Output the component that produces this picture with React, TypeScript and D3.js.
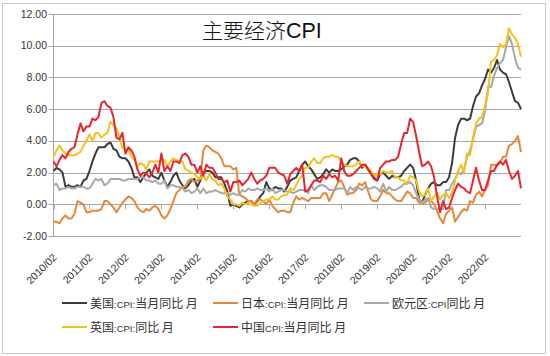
import React from "react";
import * as d3 from "d3";

const tickLabels = ["2010/02","2011/02","2012/02","2013/02","2014/02","2015/02","2016/02","2017/02","2018/02","2019/02","2020/02","2021/02","2022/02"];
const yTicks = [-2, 0, 2, 4, 6, 8, 10, 12];

// Monthly values, 2010/02 .. 2023/02
const us = [
  2.1, 2.3, 2.2, 2.0, 1.1, 1.2, 1.1, 1.1, 1.2, 1.1, 1.5,
  1.6, 2.1, 2.7, 3.2, 3.6, 3.6, 3.6, 3.8, 3.9, 3.5, 3.4, 3.0,
  2.9, 2.9, 2.7, 2.3, 1.7, 1.7, 1.4, 1.7, 2.0, 2.2, 1.8, 1.7,
  1.6, 2.0, 1.5, 1.1, 1.4, 1.8, 2.0, 1.5, 1.2, 1.0, 1.2, 1.5,
  1.6, 1.1, 1.5, 2.0, 2.1, 2.1, 2.0, 1.7, 1.7, 1.7, 1.3, 0.8,
  -0.1, 0.0, -0.1, -0.2, 0.0, 0.1, 0.2, 0.2, 0.0, 0.2, 0.5, 0.7,
  1.4, 1.0, 0.9, 1.1, 1.0, 1.0, 0.8, 1.1, 1.5, 1.6, 1.7, 2.1,
  2.5, 2.7, 2.4, 2.2, 1.9, 1.6, 1.7, 1.9, 2.2, 2.0, 2.2, 2.1,
  2.1, 2.2, 2.4, 2.5, 2.8, 2.9, 2.9, 2.7, 2.3, 2.5, 2.2, 1.9,
  1.6, 1.5, 1.9, 2.0, 1.8, 1.6, 1.8, 1.7, 1.7, 1.8, 2.1, 2.3,
  2.5, 2.3, 1.5, 0.3, 0.1, 0.6, 1.0, 1.3, 1.4, 1.2, 1.2, 1.4,
  1.4, 1.7, 2.6, 4.2, 5.0, 5.4, 5.4, 5.3, 5.4, 6.2, 6.8, 7.0,
  7.5, 7.9, 8.5, 8.3, 8.6, 9.1, 8.5, 8.3, 8.2, 7.7, 7.1, 6.5,
  6.4, 6.0,
];
const japan = [
  -1.1, -1.1, -1.2, -0.9, -0.7, -0.9, -0.9, -0.6, 0.2, 0.1, 0.0,
  -0.5, -0.5, -0.4, -0.4, -0.4, -0.3, 0.2, 0.2, 0.0, -0.2, -0.5, -0.2,
  0.1, 0.3, 0.5, 0.4, 0.2, -0.2, -0.4, -0.5, -0.3, -0.4, -0.2, -0.1,
  -0.3, -0.7, -0.9, -0.7, -0.3, 0.2, 0.7, 0.9, 1.1, 1.1, 1.5, 1.6,
  1.4, 1.5, 1.6, 3.4, 3.7, 3.6, 3.4, 3.3, 3.2, 2.9, 2.4, 2.4,
  2.4, 2.2, 2.3, 0.6, 0.5, 0.4, 0.2, 0.2, 0.0, 0.3, 0.3, 0.2,
  0.0, 0.3, -0.1, -0.3, -0.5, -0.4, -0.4, -0.5, -0.5, 0.1, 0.5, 0.3,
  0.4, 0.3, 0.2, 0.4, 0.4, 0.4, 0.4, 0.7, 0.7, 0.2, 0.6, 1.0,
  1.4, 1.5, 1.1, 0.6, 0.7, 0.7, 0.9, 1.3, 1.2, 1.4, 0.8, 0.3,
  0.2, 0.2, 0.5, 0.9, 0.7, 0.7, 0.5, 0.3, 0.2, 0.2, 0.5, 0.8,
  0.7, 0.4, 0.4, 0.1, 0.1, 0.1, 0.3, 0.2, 0.0, -0.4, -0.9, -1.2,
  -0.6, -0.4, -0.2, -1.1, -0.8, -0.5, -0.3, -0.4, 0.2, 0.1, 0.6, 0.8,
  0.5, 0.9, 1.2, 2.5, 2.5, 2.4, 2.6, 3.0, 3.0, 3.7, 3.8, 4.0,
  4.3, 3.3,
];
const euro = [
  1.2, 1.3, 0.9, 1.0, 1.0, 1.1, 1.0, 1.0, 1.1, 1.1, 1.1,
  1.0, 1.0, 1.3, 1.6, 1.5, 1.6, 1.2, 1.3, 1.6, 1.6, 1.6, 1.6,
  1.5, 1.5, 1.6, 1.6, 1.6, 1.6, 1.7, 1.7, 1.5, 1.5, 1.4, 1.5,
  1.3, 1.3, 1.5, 1.0, 1.2, 1.2, 1.1, 1.1, 1.0, 0.8, 0.9, 0.7,
  0.8, 1.0, 0.7, 1.0, 0.7, 0.8, 0.8, 0.9, 0.8, 0.7, 0.7, 0.7,
  0.6, 0.7, 0.6, 0.6, 0.9, 0.8, 1.0, 0.9, 0.9, 1.0, 0.9, 0.9,
  1.0, 0.8, 1.0, 0.7, 0.8, 0.9, 0.9, 0.8, 0.8, 0.7, 0.8, 0.9,
  0.9, 0.9, 0.7, 1.2, 0.9, 1.1, 1.2, 1.2, 1.1, 0.9, 0.9, 0.9,
  1.0, 1.0, 1.0, 0.7, 1.1, 0.9, 1.1, 1.0, 0.9, 1.1, 1.0, 1.0,
  1.1, 1.0, 0.8, 1.3, 0.8, 1.1, 0.9, 0.9, 1.0, 1.1, 1.3, 1.3,
  1.4, 1.2, 0.7, 0.3, 0.1, 0.3, 0.4, -0.2, -0.3, -0.3, -0.3, -0.3,
  0.9, 0.9, 1.3, 1.6, 2.0, 1.9, 2.2, 3.0, 3.4, 4.1, 4.9, 5.0,
  5.1, 5.9, 7.4, 7.4, 8.1, 8.6, 8.9, 9.1, 9.9, 10.6, 10.1, 9.2,
  8.6, 8.5,
];
const uk = [
  3.0, 3.4, 3.7, 3.4, 3.2, 3.1, 3.1, 3.1, 3.2, 3.3, 3.7,
  4.0, 4.4, 4.0, 4.5, 4.5, 4.2, 4.4, 4.5, 5.2, 5.0, 4.8, 4.2,
  3.6, 3.4, 3.5, 3.0, 2.8, 2.4, 2.6, 2.5, 2.2, 2.7, 2.7, 2.7,
  2.7, 2.8, 2.8, 2.4, 2.7, 2.9, 2.8, 2.7, 2.7, 2.2, 2.1, 2.0,
  1.9, 1.7, 1.6, 1.8, 1.5, 1.9, 1.6, 1.5, 1.2, 1.3, 1.0, 0.5,
  0.3, 0.0, 0.0, -0.1, 0.1, 0.0, 0.1, 0.0, -0.1, -0.1, 0.1, 0.2,
  0.3, 0.3, 0.5, 0.3, 0.3, 0.5, 0.6, 0.6, 1.0, 0.9, 1.2, 1.6,
  1.8, 2.3, 2.3, 2.7, 2.9, 2.6, 2.6, 2.9, 3.0, 3.0, 3.1, 3.0,
  3.0, 2.7, 2.5, 2.4, 2.4, 2.4, 2.5, 2.7, 2.4, 2.4, 2.3, 2.1,
  1.8, 1.9, 1.9, 2.1, 2.0, 2.0, 2.1, 1.7, 1.7, 1.5, 1.5, 1.3,
  1.8, 1.7, 1.5, 0.8, 0.5, 0.6, 1.0, 0.2, 0.5, 0.7, 0.3, 0.6,
  0.7, 0.4, 0.7, 1.5, 2.1, 2.5, 2.0, 3.2, 3.1, 4.2, 5.1, 5.4,
  5.5, 6.2, 7.0, 9.0, 9.1, 9.4, 10.1, 9.9, 10.1, 11.1, 10.7, 10.5,
  10.1, 9.3,
];
const china = [
  2.7, 2.4, 2.8, 3.1, 2.9, 3.3, 3.5, 3.6, 4.4, 5.1, 4.6,
  4.9, 4.9, 5.4, 5.3, 5.5, 6.4, 6.5, 6.2, 6.1, 5.5, 4.2, 4.1,
  4.5, 3.2, 3.6, 3.4, 3.0, 2.2, 1.8, 2.0, 1.9, 1.7, 2.0, 2.5,
  2.0, 3.2, 2.1, 2.4, 2.1, 2.7, 2.7, 2.6, 3.1, 3.2, 3.0, 2.5,
  2.5, 2.0, 2.4, 1.8, 2.5, 2.3, 2.3, 2.0, 1.6, 1.6, 1.4, 1.5,
  0.8, 1.4, 1.4, 1.5, 1.2, 1.4, 1.6, 2.0, 1.6, 1.3, 1.5, 1.6,
  1.8, 2.3, 2.3, 2.3, 2.0, 1.9, 1.8, 1.3, 1.9, 2.1, 2.3, 2.1,
  2.5, 0.8, 0.9, 1.2, 1.5, 1.5, 1.4, 1.8, 1.6, 1.9, 1.7, 1.8,
  1.5, 2.9, 2.1, 1.8, 1.8, 1.9, 2.1, 2.3, 2.5, 2.5, 2.2, 1.9,
  1.7, 1.5, 2.3, 2.5, 2.7, 2.7, 2.8, 2.8, 3.0, 3.8, 4.5, 4.5,
  5.4, 5.2, 4.3, 3.3, 2.4, 2.5, 2.7, 2.4, 1.7, 0.5, -0.5, 0.2,
  -0.3, -0.2, 0.4, 0.9, 1.3, 1.1, 1.0, 0.8, 0.7, 1.5, 2.3, 1.5,
  0.9, 0.9, 1.5, 2.1, 2.1, 2.5, 2.7, 2.5, 2.8, 2.1, 1.6, 1.8,
  2.1, 1.0,
];

const seriesNames = ["美国:CPI:当月同比 月", "日本:CPI:当月同比 月", "欧元区:CPI同比 月", "英国:CPI:同比 月", "中国CPI:当月同比 月"];
const seriesData = [us, japan, euro, uk, china];
const colors = ["#3c3c3c", "#E8873A", "#A8A8A8", "#F5C11C", "#E8252C"];

const W = 550, H = 356;
const left = 53.5, right = 521, top = 14, bottom = 236;

const font = "'Liberation Sans', Arial, sans-serif";
const cjk = "'Noto Sans CJK SC', 'Liberation Sans', sans-serif";

function LegendText({ text }: { text: string }) {
  const parts = text.split(/([A-Za-z:]+)/).filter((p) => p.length > 0);
  return (
    <>
      {parts.map((p, i) =>
        /^[A-Za-z:]+$/.test(p) ? (
          <tspan key={i} fontFamily="'Liberation Sans Narrow', 'Liberation Sans', sans-serif" fontSize={9.5}>{p}</tspan>
        ) : (
          <tspan key={i} fontFamily={cjk} fontSize={12}>{p}</tspan>
        )
      )}
    </>
  );
}

export default function App() {
  const n = us.length;
  const x = d3.scaleLinear().domain([0, n - 1]).range([left, right]);
  const y = d3.scaleLinear().domain([-2, 12]).range([bottom, top]);
  const line = d3.line<number>().x((_, i) => x(i)).y((d) => y(d));

  const legendPos = [
    { lx: 62, ly: 303 }, { lx: 213, ly: 303 }, { lx: 364, ly: 303 },
    { lx: 62, ly: 327 }, { lx: 213, ly: 327 },
  ];

  return (
    <svg width={W} height={H} style={{ position: "absolute", left: 0, top: 0, background: "#fff" }}>
      <rect x={2.5} y={3.5} width={543} height={350} fill="#fff" stroke="#c9c9c9" />
      {yTicks.map((t) => (
        <g key={t}>
          <line x1={left - 5} x2={right} y1={Math.round(y(t)) + 0.5} y2={Math.round(y(t)) + 0.5} stroke="#a6a6a6" strokeWidth={1} />
          <text x={47} y={y(t) + 3.5} textAnchor="end" fontFamily={font} fontSize={10.5} fill="#333">{t.toFixed(2)}</text>
        </g>
      ))}
      <line x1={left} x2={left} y1={top} y2={bottom} stroke="#a6a6a6" />
      {tickLabels.map((lab, k) => {
        const tx = x(k * 12);
        return (
          <g key={lab}>
            <line x1={Math.round(tx) + 0.5} x2={Math.round(tx) + 0.5} y1={y(0)} y2={y(0) + 5} stroke="#a6a6a6" />
            <text transform={`translate(${tx + 4},${258}) rotate(-45)`} textAnchor="end" fontFamily={font} fontSize={10.5} fill="#333">{lab}</text>
          </g>
        );
      })}
      {seriesData.map((s, i) => (
        <path key={i} d={line(s) || ""} fill="none" stroke={colors[i]} strokeWidth={2} strokeLinejoin="round" />
      ))}
      <text x={202} y={38} fill="#111">
        <tspan fontFamily={cjk} fontSize={21} fontWeight={300}>主要经济</tspan>
        <tspan fontFamily={font} fontSize={21.5}>CPI</tspan>
      </text>
      {seriesNames.map((name, i) => (
        <g key={name}>
          <line x1={legendPos[i].lx} x2={legendPos[i].lx + 25} y1={legendPos[i].ly} y2={legendPos[i].ly} stroke={colors[i]} strokeWidth={2} />
          <text x={legendPos[i].lx + 28} y={legendPos[i].ly + 4.5} fill="#333">
            <LegendText text={name} />
          </text>
        </g>
      ))}
    </svg>
  );
}
